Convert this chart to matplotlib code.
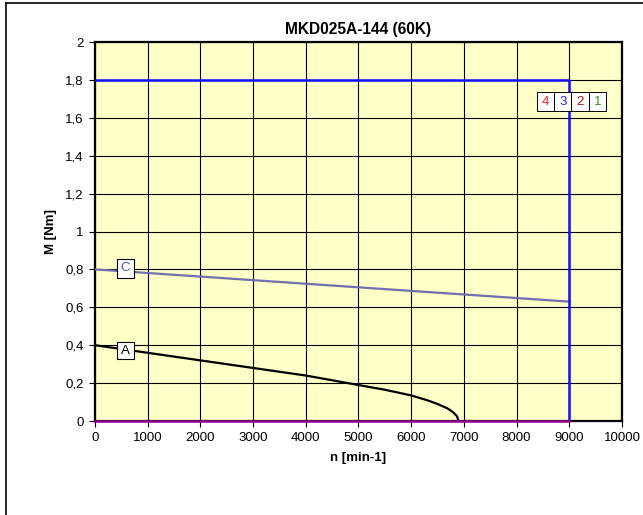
import matplotlib.pyplot as plt
from matplotlib.lines import Line2D
from matplotlib.patches import Rectangle

plt.rcParams["font.family"] = ["Liberation Sans", "DejaVu Sans"]

# curve data
speed_a = [0, 500, 1000, 1500, 2000, 2500, 3000, 3500, 4000, 4500, 5000, 5500, 6000, 6300, 6500, 6700, 6800, 6870, 6900]
torque_a = [0.40, 0.38, 0.36, 0.34, 0.32, 0.30, 0.28, 0.26, 0.24, 0.215, 0.19, 0.165, 0.135, 0.11, 0.09, 0.065, 0.045, 0.025, 0.0]
speed_c = [0, 9000]
torque_c = [0.80, 0.63]
speed_max = [0, 9000, 9000]
torque_max = [1.80, 1.80, 0.0]
speed_zero = [0, 9000]
torque_zero = [0.0, 0.0]

xticks = list(range(0, 10001, 1000))
yticks = [0, 0.2, 0.4, 0.6, 0.8, 1.0, 1.2, 1.4, 1.6, 1.8, 2.0]
ytick_labels = ["0", "0,2", "0,4", "0,6", "0,8", "1", "1,2", "1,4", "1,6", "1,8", "2"]
legend_nums = ["4", "3", "2", "1"]
legend_cols = ["#FF2020", "#2020FF", "#A01010", "#309030"]

fig = plt.figure(figsize=(6.43, 5.15), dpi=100)
ax = fig.add_axes([0.1477, 0.1825, 0.8196, 0.7359])
ax.set_facecolor("#FFFFC8")

ax.plot(speed_c, torque_c, color="#7070B0", lw=1.6, zorder=3)
ax.plot(speed_a, torque_a, color="black", lw=1.6, zorder=3)
ax.plot(speed_max, torque_max, color="#1010FF", lw=1.8, zorder=4)
ax.plot(speed_zero, torque_zero, color="#900090", lw=1.8, zorder=5, clip_on=False)

ax.set_xlim(0, 10000)
ax.set_ylim(0, 2)
ax.set_xticks(xticks)
ax.set_yticks(yticks)
ax.set_yticklabels(ytick_labels)
ax.tick_params(labelsize=9.5, length=4, width=0.8, direction="out", pad=4)
ax.grid(True, color="black", lw=0.8)
ax.set_axisbelow(True)
for s in ax.spines.values():
    s.set_linewidth(1.6)

ax.set_title("MKD025A-144 (60K)", fontsize=11.2, fontweight="bold", pad=6)
ax.set_xlabel("n [min-1]", fontsize=9.5, fontweight="bold", labelpad=6)
ax.set_ylabel("M [Nm]", fontsize=9.5, fontweight="bold", labelpad=6)


def label_box(x0, x1, y0, y1, txt, col, lw=0.8):
    ax.add_patch(Rectangle((x0, y0), x1 - x0, y1 - y0, fc="white", ec="black", lw=lw, zorder=6))
    ax.text((x0 + x1) / 2, (y0 + y1) / 2, txt, color=col, fontsize=9.5,
            ha="center", va="center", zorder=7)


label_box(420, 740, 0.755, 0.855, "C", "#5050A0")
label_box(420, 740, 0.327, 0.417, "A", "black")

w = (9697 - 8387) / 4
for i, (n, c) in enumerate(zip(legend_nums, legend_cols)):
    label_box(8387 + i * w, 8387 + (i + 1) * w, 1.635, 1.737, n, c, lw=0.7)

fig.add_artist(Line2D([6 / 643, 6 / 643], [0, 1 - 3 / 515], color="black", lw=1.2))
fig.add_artist(Line2D([6 / 643, 1], [1 - 3 / 515, 1 - 3 / 515], color="black", lw=1.2))

fig.savefig("out.png", dpi=100)
